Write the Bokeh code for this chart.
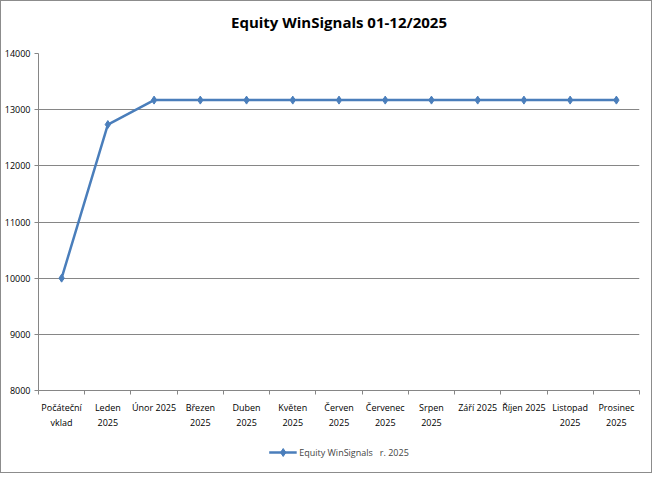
from bokeh.plotting import figure
from bokeh.models import FixedTicker, Range1d, Legend, LegendItem, Label
from bokeh.layouts import column
from bokeh.embed import file_html
from bokeh.resources import INLINE

categories = ["Počáteční\nvklad", "Leden\n2025", "Únor 2025", "Březen\n2025", "Duben\n2025",
              "Květen\n2025", "Červen\n2025", "Červenec\n2025", "Srpen\n2025", "Září 2025",
              "Říjen 2025", "Listopad\n2025", "Prosinec\n2025"]
equity = [10000, 12735, 13170, 13170, 13170, 13170, 13170, 13170, 13170, 13170, 13170, 13170, 13170]
y_ticks = [8000, 9000, 10000, 11000, 12000, 13000, 14000]
series_name = "Equity WinSignals   r. 2025"
title_text = "Equity WinSignals 01-12/2025"

xs = list(range(len(categories)))
FONT = "Open Sans"
GRAY = "#868686"
BLUE = "#4A7EBB"

# title strip
t = figure(width=650, height=32, output_backend="svg", toolbar_location=None,
           x_range=Range1d(-0.5, len(categories) - 0.5), y_range=Range1d(0, 1),
           min_border=0, outline_line_color=None)
t.axis.visible = False
t.grid.visible = False
t.add_layout(Label(x=(len(categories) - 1) / 2, y=0.35, text=title_text,
                   text_align="center", text_baseline="middle", text_font=FONT,
                   text_font_size="15px", text_font_style="bold", text_color="#000000"))

p = figure(width=650, height=399, output_backend="svg", toolbar_location=None,
           x_range=Range1d(-0.5, len(categories) - 0.5), y_range=Range1d(8000, 14000),
           min_border_left=36, min_border_right=12, min_border_top=20, min_border_bottom=42)
p.outline_line_color = None

r = p.line(xs, equity, line_color=BLUE, line_width=2.5)
m = p.scatter(xs, equity, marker="diamond", size=8, fill_color=BLUE, line_color=BLUE)

p.xaxis.ticker = FixedTicker(ticks=xs, minor_ticks=[i - 0.5 for i in range(len(categories) + 1)])
p.xaxis.major_label_overrides = {i: c for i, c in enumerate(categories)}
p.xaxis.major_tick_out = 0
p.xaxis.major_tick_in = 0
p.xaxis.minor_tick_out = 4
p.xaxis.minor_tick_in = 0
p.xaxis.minor_tick_line_color = GRAY
p.xaxis.axis_line_color = GRAY
p.xaxis.major_label_text_font = FONT
p.xaxis.major_label_text_font_size = "9px"
p.xaxis.major_label_text_color = "#000000"
p.xaxis.major_label_standoff = 6

p.yaxis.ticker = FixedTicker(ticks=y_ticks)
p.yaxis.axis_line_color = GRAY
p.yaxis.major_tick_line_color = GRAY
p.yaxis.major_tick_out = 4
p.yaxis.major_tick_in = 0
p.yaxis.minor_tick_line_color = None
p.yaxis.major_label_text_font = FONT
p.yaxis.major_label_text_font_size = "9px"
p.yaxis.major_label_text_color = "#000000"
p.yaxis.major_label_standoff = 4

p.xgrid.grid_line_color = None
p.ygrid.grid_line_color = GRAY
p.ygrid.grid_line_width = 1

# legend strip (separate small figure, glyphs kept out of its view)
q = figure(width=650, height=40, output_backend="svg", toolbar_location=None,
           x_range=Range1d(-0.5, len(categories) - 0.5), y_range=Range1d(0, 1),
           min_border=0, outline_line_color=None)
q.axis.visible = False
q.grid.visible = False
lr = q.line(xs, equity, line_color=BLUE, line_width=2.5)
lm = q.scatter(xs, equity, marker="diamond", size=8, fill_color=BLUE, line_color=BLUE)
legend = Legend(items=[LegendItem(label=series_name, renderers=[lr, lm])],
                location="center", orientation="horizontal",
                label_text_font=FONT, label_text_font_size="9px",
                border_line_color=None, background_fill_alpha=0,
                glyph_width=28, label_standoff=3, padding=0, margin=0)
q.add_layout(legend, "center")

layout = column(t, p, q, spacing=0)
layout.styles = {"border": "1px solid #8c8c8c"}

open("out.html", "w").write(file_html(layout, INLINE))
